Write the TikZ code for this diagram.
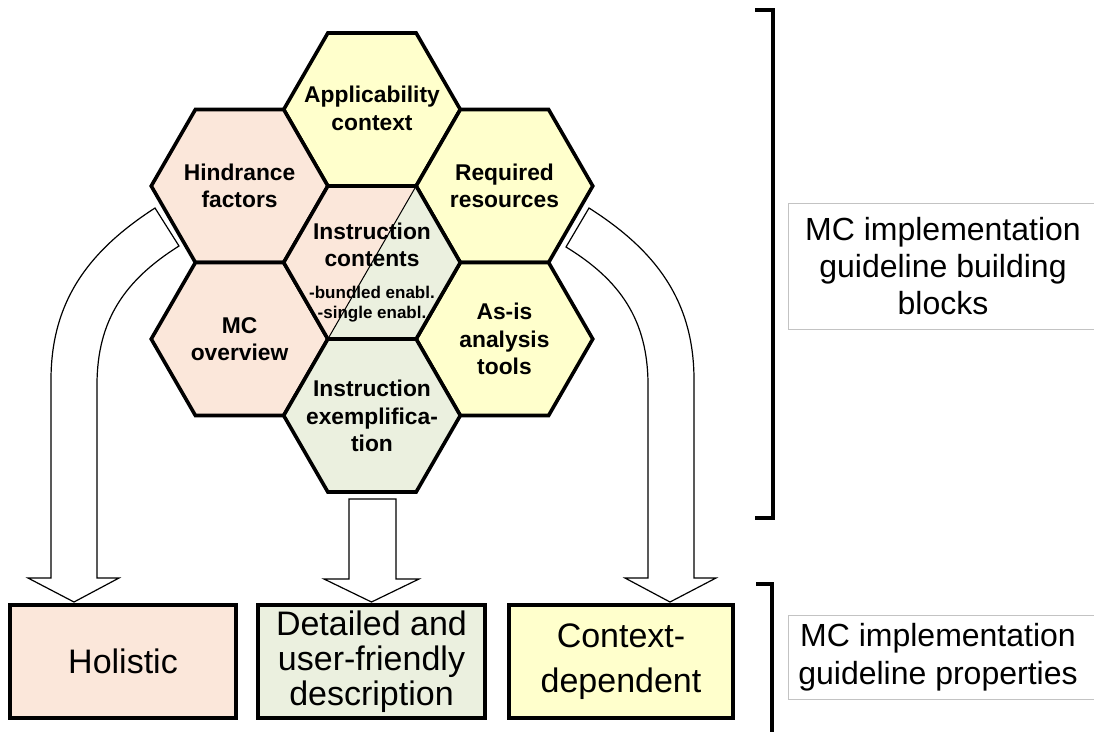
\documentclass[tikz,border=0pt]{standalone}
\usepackage{fontspec}
\setmainfont{Liberation Sans}
\definecolor{cpink}{RGB}{251,231,218}
\definecolor{cyel}{RGB}{255,255,204}
\definecolor{cgreen}{RGB}{235,240,223}
\definecolor{lblgray}{RGB}{195,195,195}
\def\HR{88.3}
\def\HH{76.5}
\newcommand{\HexCell}[3]{\path[#3] (#1+\HR,#2) -- (#1+\HR/2,#2-\HH) -- (#1-\HR/2,#2-\HH) -- (#1-\HR,#2) -- (#1-\HR/2,#2+\HH) -- (#1+\HR/2,#2+\HH) -- cycle;}
\begin{document}
\begin{tikzpicture}[x=1pt,y=-1pt,
  hexline/.style={draw=black,line width=3.6pt,line join=miter},
  hextext/.style={align=center,font=\fontsize{22.8}{27.5}\selectfont\bfseries},
  smalltext/.style={align=center,font=\fontsize{17}{20.5}\selectfont\bfseries},
  propbox/.style={draw=black,line width=3.4pt,align=center,inner sep=0pt,font=\fontsize{34}{35}\selectfont},
  blockarrow/.style={draw=black,fill=white,line width=1.2pt,line join=miter},
  bracketline/.style={draw=black,line width=3.6pt},
  lblbox/.style={draw=lblgray,fill=white,line width=1pt},
  lbltext/.style={align=center,font=\fontsize{32}{37}\selectfont}]
\clip (0,0) rectangle (1094,731);
\fill[white] (0,0) rectangle (1094,731);

% hexagons
\HexCell{372}{109.5}{hexline,fill=cyel}
\HexCell{239.55}{186}{hexline,fill=cpink}
\HexCell{504.45}{186}{hexline,fill=cyel}
\HexCell{239.55}{339}{hexline,fill=cpink}
\HexCell{504.45}{339}{hexline,fill=cyel}
\HexCell{372}{415.5}{hexline,fill=cgreen}
\HexCell{372}{262.5}{fill=cpink}
\fill[cgreen] (372+\HR/2,262.5-\HH) -- (372+\HR,262.5) -- (372+\HR/2,262.5+\HH) -- (372-\HR/2,262.5+\HH) -- cycle;
\draw[line width=1pt] (372+\HR/2,262.5-\HH) -- (372-\HR/2,262.5+\HH);
\HexCell{372}{262.5}{hexline}

% hexagon texts
\node[hextext] (tA) at (372,108.5) {Applicability\\context};
\node[hextext] (tH) at (239.55,186) {Hindrance\\factors};
\node[hextext] (tR) at (504.45,186) {Required\\resources};
\node[hextext] (tIC) at (372,245) {Instruction\\contents};
\node[smalltext] (tICs) at (372,304) {-bundled enabl.\\-single enabl.};
\node[hextext] (tMC) at (239.55,339) {MC\\overview};
\node[hextext] (tAS) at (504.45,339) {As-is\\analysis\\tools};
\node[hextext] (tIE) at (372,416) {Instruction\\exemplifica-\\tion};

% property boxes
\node[propbox,fill=cpink,minimum width=226pt,minimum height=113pt] (pHol) at (123,661.5) {Holistic};
\node[propbox,fill=cgreen,minimum width=227pt,minimum height=113pt] (pDet) at (371.5,661.5) {Detailed and\\user-friendly\\description};
\node[propbox,fill=cyel,minimum width=224pt,minimum height=113pt,font=\fontsize{34}{45}\selectfont] (pCon) at (621,661.5) {Context-\\dependent};

% block arrows
\coordinate (LAo) at (155,208);
\coordinate (LAi) at (179,246);
\coordinate (LAt) at (74,602);
\path[blockarrow] (LAo) .. controls (90,250) and (51,300) .. (51,380) -- (51,578) -- (28,578) -- (LAt) -- (119,578) -- (97,578) -- (97,385) .. controls (97,320) and (125,280) .. (LAi) -- cycle;

\coordinate (MAl) at (349,499);
\coordinate (MAr) at (396,499);
\coordinate (MAt) at (371.5,602);
\path[blockarrow] (MAl) -- (349,579) -- (324,579) -- (MAt) -- (419,579) -- (396,579) -- (MAr) -- cycle;

\coordinate (RAo) at (589,208);
\coordinate (RAi) at (566,247);
\coordinate (RAt) at (670,602);
\path[blockarrow] (RAo) .. controls (655,250) and (694,300) .. (694,380) -- (694,578) -- (716,578) -- (RAt) -- (625,578) -- (648,578) -- (648,385) .. controls (648,320) and (620,280) .. (RAi) -- cycle;

% brackets
\draw[bracketline] (755,10) -- (773,10) -- (773,518) -- (755,518);
\draw[bracketline] (756,584) -- (772,584) -- (772,740);

% labels
\draw[lblbox] (788,203) rectangle (1100,329);
\node[lbltext] (L1) at (943,266) {MC implementation\\guideline building\\blocks};
\draw[lblbox] (788,615) rectangle (1100,699);
\node[lbltext,font=\fontsize{32}{38}\selectfont] (L2) at (938,657) {MC implementation\\guideline properties};
\end{tikzpicture}
\end{document}
